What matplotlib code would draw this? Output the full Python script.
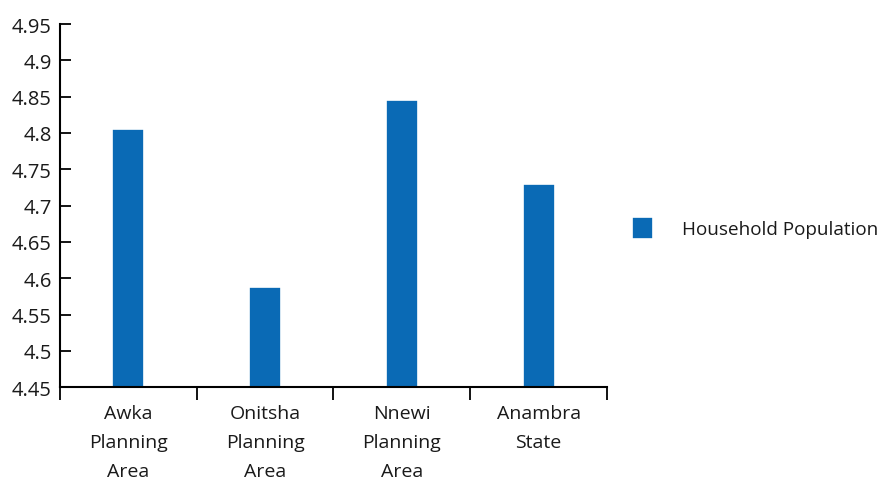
import matplotlib
matplotlib.use("Agg")
import matplotlib.pyplot as plt
import numpy as np
from matplotlib.ticker import FixedLocator, FuncFormatter

plt.rcParams['font.family'] = ['Open Sans', 'DejaVu Sans']

categories = ["Awka\nPlanning\nArea", "Onitsha\nPlanning\nArea", "Nnewi\nPlanning\nArea", "Anambra\nState"]
values = [4.806, 4.588, 4.845, 4.730]
series_name = "Household Population"
y_ticks = [4.45, 4.5, 4.55, 4.6, 4.65, 4.7, 4.75, 4.8, 4.85, 4.9, 4.95]

bar_color = "#0a6ab5"
text_color = "#1a1a1a"

fig = plt.figure(figsize=(8.81, 4.81), dpi=100)
ax = fig.add_axes([0.068, 0.193, 0.621, 0.755])

x = np.arange(len(categories))
base = 4.45
ax.bar(x, np.array(values) - base, bottom=base, width=0.235, color=bar_color,
       edgecolor="white", linewidth=1.2, label=series_name, zorder=2)

ax.set_xlim(-0.5, len(categories) - 0.5)
ax.set_ylim(4.45, 4.95)
ax.set_yticks(y_ticks)
ax.yaxis.set_major_formatter(FuncFormatter(lambda v, p: f"{v:g}"))

ax.xaxis.set_major_locator(FixedLocator(np.arange(len(categories) + 1) - 0.5))
ax.xaxis.set_major_formatter(FuncFormatter(lambda v, p: ""))
ax.xaxis.set_minor_locator(FixedLocator(x))
ax.set_xticklabels(categories, minor=True)

ax.tick_params(axis='x', which='major', direction='out', length=9, width=1.3, color='black')
ax.tick_params(axis='x', which='minor', length=0, pad=12, labelsize=14, labelcolor=text_color)
ax.tick_params(axis='y', which='major', direction='in', length=8, width=1.3, color='black',
               labelsize=14.5, labelcolor=text_color, pad=6)
for lbl in ax.get_xticklabels(minor=True):
    lbl.set_multialignment('center')
    lbl.set_linespacing(1.8)

for s in ['top', 'right']:
    ax.spines[s].set_visible(False)
for s in ['left', 'bottom']:
    ax.spines[s].set_linewidth(1.5)
    ax.spines[s].set_color('black')

leg = fig.legend(loc='center left', bbox_to_anchor=(0.698, 0.524), frameon=False,
                 fontsize=13.6, handlelength=1.1, handleheight=1.4, handletextpad=1.55,
                 labelcolor=text_color)

fig.savefig("out.png", dpi=100)
